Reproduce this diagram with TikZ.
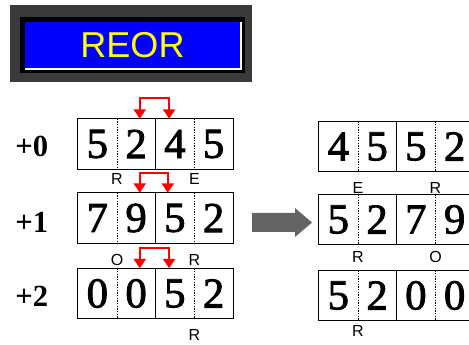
\documentclass[tikz,border=0pt]{standalone}
\usepackage{fontspec}
\setmainfont{Liberation Serif}
\setsansfont{Liberation Sans}
\newfontfamily\digitfont{Liberation Serif}[FakeBold=2]
\usetikzlibrary{arrows.meta,positioning}

\definecolor{titleblue}{RGB}{0,0,255}
\definecolor{titleyellow}{RGB}{255,255,0}
\definecolor{framegray}{RGB}{58,58,58}
\definecolor{shiftgray}{RGB}{100,100,100}

\tikzset{
  cell/.style={minimum width=29.06pt, minimum height=37.5pt, inner sep=0pt,
    font=\digitfont\fontsize{32}{32}\selectfont},
  tag/.style={inner sep=0pt, font=\sffamily\fontsize{12}{12}\selectfont},
  rowlabel/.style={inner sep=0pt, font=\bfseries\fontsize{23}{23}\selectfont},
  swaparrow/.style={draw=red, line width=1.5pt,
    {Triangle[width=9pt,length=7pt]}-{Triangle[width=9pt,length=7pt]}},
  titlebox/.style={fill=titleblue, text=titleyellow, inner sep=0pt,
    minimum width=161.25pt, minimum height=34.5pt,
    font=\sffamily\fontsize{27}{27}\selectfont},
  divider/.style={line width=0.6pt, dash pattern=on 1pt off 1pt},
}

% one row of four cells: name, left x, centre y, digits
\newcommand\reorrow[4]{%
  \foreach \d [count=\i] in {#4}
    \node[cell] (#1c\i) at ({#2+38.75*(\i-0.5)},#3) {\d};
  \draw[line width=1pt] (#1c1.north west) rectangle (#1c4.south east);
  \draw[divider] (#1c1.north east) -- (#1c1.south east);
  \draw[line width=1pt] (#1c2.north east) -- (#1c2.south east);
  \draw[divider] (#1c3.north east) -- (#1c3.south east);
}

\begin{document}
\begin{tikzpicture}[x=0.75pt, y=-0.75pt]
\useasboundingbox (0,0) rectangle (469,345);

% title plate
\fill[framegray] (10,5) rectangle (252,82);
\fill[black] (20,17) rectangle (245,73);
\fill[white] (25,22) rectangle (242,70);
\node[titlebox] (title) at (132.5,45) {REOR};

% left block
\reorrow{L0}{78}{144}{5,2,4,5}
\reorrow{L1}{78}{218}{7,9,5,2}
\reorrow{L2}{78}{293.5}{0,0,5,2}

\node[rowlabel, left=22pt of L0c1, yshift=-2pt] (off0) {+0};
\node[rowlabel, left=22pt of L1c1, yshift=-3pt] (off1) {+1};
\node[rowlabel, left=22pt of L2c1, yshift=-2pt] (off2) {+2};

\node[tag, below=3pt of L0c1.south east] (L0a) {R};
\node[tag, below=3pt of L0c3.south east] (L0b) {E};
\node[tag, below=8pt of L1c1.south east] (L1a) {O};
\node[tag, below=8pt of L1c3.south east] (L1b) {R};
\node[tag, below=7.5pt of L2c3.south east] (L2b) {R};

% swaps
\draw[swaparrow] ([xshift=-12pt]L0c2.north east) -- ++(0,-21) -| ([xshift=10pt]L0c2.north east);
\draw[swaparrow] ([xshift=-12pt]L1c2.north east) -- ++(0,-20) -| ([xshift=9pt]L1c2.north east);
\draw[swaparrow] ([xshift=-12pt]L2c2.north east) -- ++(0,-20) -| ([xshift=10pt]L2c2.north east);

% shift arrow
\fill[shiftgray] (252,213) -- (295,213) -- (295,208) -- (312,222.5)
  -- (295,237) -- (295,232) -- (252,232) -- cycle;

% right block
\reorrow{R0}{319}{146.5}{4,5,5,2}
\reorrow{R1}{319}{219.5}{5,2,7,9}
\reorrow{R2}{319}{295.5}{5,2,0,0}

\node[tag, below=8pt of R0c1.south east] (R0a) {E};
\node[tag, below=8pt of R0c3.south east] (R0b) {R};
\node[tag, below=5pt of R1c1.south east] (R1a) {R};
\node[tag, below=5pt of R1c3.south east] (R1b) {O};
\node[tag, below=3pt of R2c1.south east] (R2a) {R};
\end{tikzpicture}
\end{document}
